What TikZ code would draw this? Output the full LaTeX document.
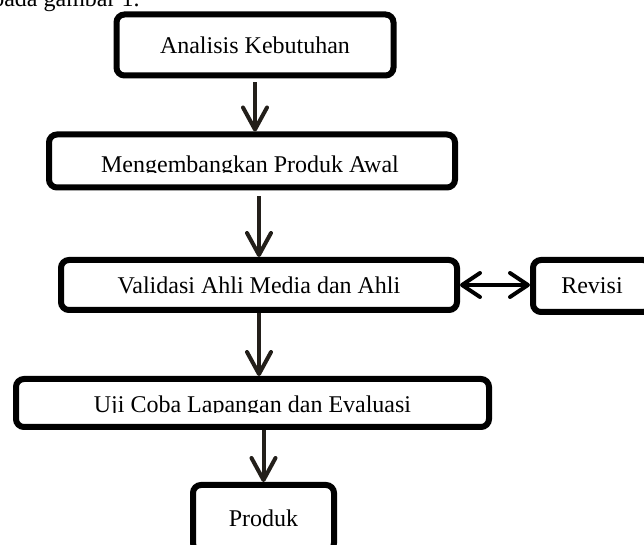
\documentclass[tikz,border=0pt]{standalone}
\usepackage{fontspec}
\setmainfont{Liberation Serif}
\usetikzlibrary{arrows.meta}

\definecolor{arrowdark}{RGB}{35,31,26}

\tikzset{
    box/.style={draw=black, line width=3pt, rounded corners=4pt, inner sep=0pt, font=\fontsize{12}{14}\selectfont},
    txt/.style={inner sep=0pt, font=\fontsize{12}{14}\selectfont},
    down/.style={draw=arrowdark, line width=2pt, -{Straight Barb[length=11pt,width=12pt,round]}},
    both/.style={draw=black, line width=2pt, {Straight Barb[length=9pt,width=12pt,round]}-{Straight Barb[length=9pt,width=12pt,round]}}
}

\begin{document}
\begin{tikzpicture}[x=0.5pt, y=-0.5pt]
        \useasboundingbox (0,0) rectangle (644,545);

        % line of text above, cut by the page
        \node[txt, anchor=base east] (lead) at (140,7) {pada gambar 1.};

        % steps
        \node[box, minimum width=138.5pt, minimum height=30.5pt] (b1) at (255,45) {Analisis Kebutuhan};
        \node[box, minimum width=203pt, minimum height=26.5pt] (b2) at (252,161) {};
        \node[box, minimum width=198pt, minimum height=25pt] (b3) at (259,285) {Validasi Ahli Media dan Ahli};
        \node[box, minimum width=236.5pt, minimum height=24pt] (b4) at (252.5,403) {};
        \node[box, minimum width=70.5pt, minimum height=33pt] (b5) at (263.5,518) {Produk};

        % revision
        \node[box, minimum width=59pt, minimum height=26pt] (rev) at (592,286) {Revisi};

        % texts cut at the baseline
        \begin{scope}
            \clip (b2.north west) rectangle (b2.east |- 0,173);
            \node[txt, anchor=base] (t2) at (250,173) {Mengembangkan Produk Awal};
        \end{scope}
        \begin{scope}
            \clip (b4.north west) rectangle (b4.east |- 0,413);
            \node[txt, anchor=base] (t4) at (252.5,413) {Uji Coba Lapangan dan Evaluasi};
        \end{scope}

        % arrows
        \draw[down, shorten <=2pt] (b1.south) -- (b1.south |- b2.north);
        \draw[down, shorten <=3pt] (b3.north |- b2.south) -- (b3.north);
        \draw[down] (b3.south) -- (b3.south |- b4.north);
        \draw[down] (b5.north |- b4.south) -- (b5.north);
        \draw[both] (b3.east) -- (b3.east -| rev.west);

\end{tikzpicture}
\end{document}
